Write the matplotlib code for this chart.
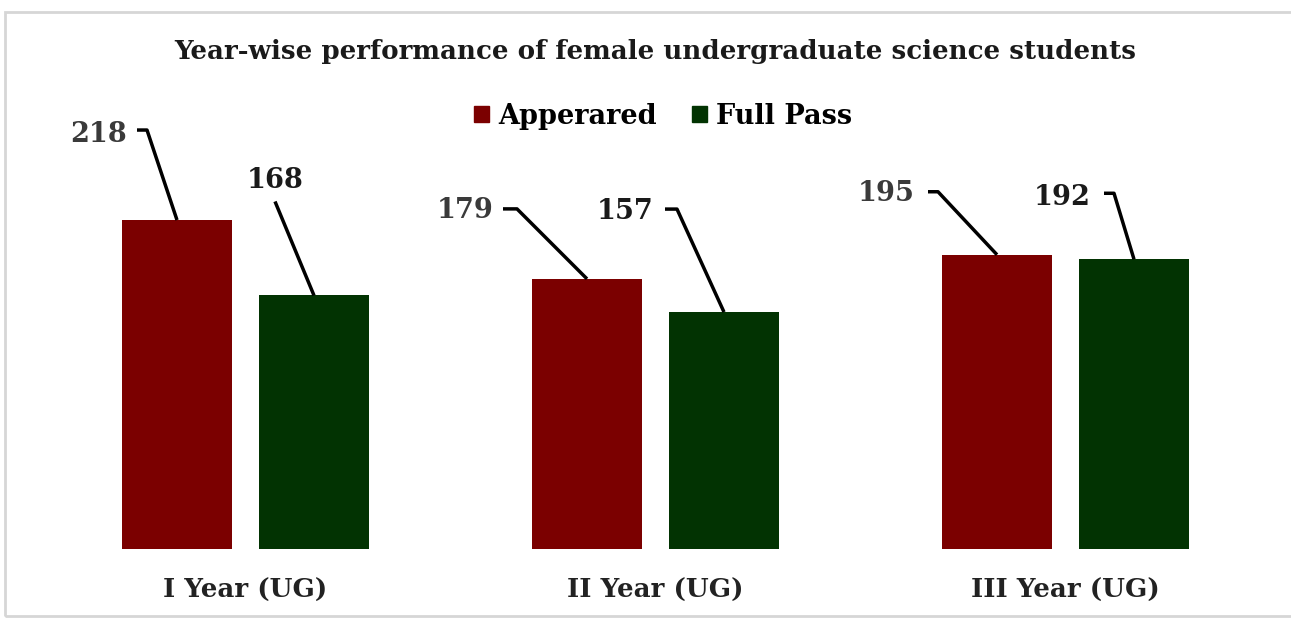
import matplotlib
matplotlib.use("Agg")
import matplotlib.pyplot as plt
import numpy as np
from matplotlib.patches import Rectangle, Patch

# data
categories = ["I Year (UG)", "II Year (UG)", "III Year (UG)"]
series_names = ["Apperared", "Full Pass"]
appeared = [218, 179, 195]
full_pass = [168, 157, 192]

colors = ["#7b0000", "#023302"]

# label/leader offsets in pixels relative to bar top:
# (text_dx, text_dy, hstart_dx, elbow_dx, elbow_dy, text_align)
appeared_leaders = [(-50, 86, -40, -30, 90, "right"), (-93, 68, -84, -70, 70, "right"),
                    (-82, 61, -69, -59, 63, "right")]
full_leaders = [(-39, 115, -39, -39, 94, "center"), (-71, 101, -59, -47, 103, "right"),
                (-43, 62, -30, -20, 66, "right")]


def main():
    plt.rcParams["font.family"] = ["DejaVu Serif"]
    plt.rcParams["font.weight"] = "bold"

    W, H = 1291, 620
    fig = plt.figure(figsize=(W / 100, H / 100), dpi=100)
    # frame
    fig.add_artist(Rectangle((5 / W, 4 / H), 1.1, 604 / H, transform=fig.transFigure,
                             fill=False, edgecolor="#d6d6d6", lw=2))

    base = 71
    ax = fig.add_axes([0, base / H, 1, (H - base) / H])
    ax.set_xlim(-245.5 / 410, (W - 245.5) / 410)
    ax.set_ylim(0, (H - base) / 1.509)
    ax.axis("off")

    x = np.arange(len(categories))
    off = 137 / 410 / 2
    bw = 110 / 410
    b1 = ax.bar(x - off, appeared, bw, color=colors[0], label=series_names[0])
    b2 = ax.bar(x + off, full_pass, bw, color=colors[1], label=series_names[1])

    fig.canvas.draw()

    def leaders(bars, vals, specs, tcolor):
        for bar, v, (tdx, tdy, hdx, edx, edy, ha) in zip(bars, vals, specs):
            cx = bar.get_x() + bar.get_width() / 2
            px, py = ax.transData.transform((cx, v))
            fig.add_artist(plt.Line2D([px + hdx, px + edx, px], [py + edy, py + edy, py],
                                      transform=None, color="black", lw=2.5,
                                      solid_capstyle="butt"))
            fig.text((px + tdx) / W, (py + tdy) / H, str(v), ha=ha, va="center",
                     fontsize=19.5, fontweight="bold", color=tcolor)

    leaders(b1, appeared, appeared_leaders, "#3a3a3a")
    leaders(b2, full_pass, full_leaders, "#1a1a1a")

    for xi, cat in zip(x, categories):
        ax.text(xi, -41 / 1.509, cat, ha="center", va="center", fontsize=18.8,
                fontweight="bold", color="#222222", clip_on=False)

    fig.text(655 / W, 1 - 52 / H, "Year-wise performance of female undergraduate science students",
             ha="center", va="center", fontsize=18.8, fontweight="bold", color="#1a1a1a")

    handles = [Patch(color=colors[0]), Patch(color=colors[1])]
    fig.legend(handles, series_names, loc="center", bbox_to_anchor=(663 / W, 1 - 116 / H),
               ncol=2, frameon=False, handlelength=0.55, handleheight=0.55,
               handletextpad=0.35, columnspacing=1.3, prop={"weight": "bold", "size": 19.5})

    fig.savefig("out.png", dpi=100, facecolor="white")


if __name__ == "__main__":
    main()
